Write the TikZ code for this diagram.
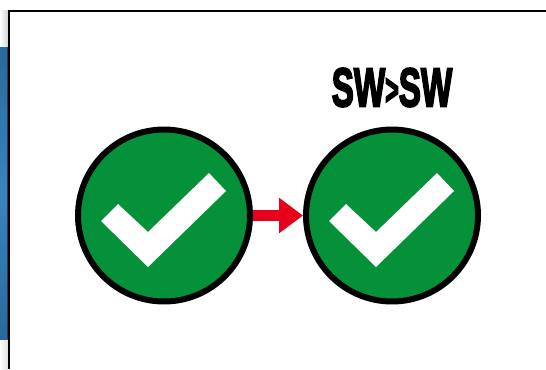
\documentclass[tikz,border=0pt]{standalone}
\usepackage{fontspec}
\usetikzlibrary{arrows.meta}
\newfontfamily\titlefont[FakeBold=4]{Liberation Sans Bold}
\definecolor{okgreen}{HTML}{05913A}
\definecolor{arrowred}{HTML}{E6001E}
\definecolor{stripblue}{HTML}{3A85B8}
\definecolor{stripdark}{HTML}{2A689E}
\tikzset{
  okcircle/.style={circle, draw=black, fill=okgreen, line width=0.12cm, minimum size=3.44cm, inner sep=0pt},
  titlelabel/.style={inner sep=0pt, font=\titlefont\fontsize{21}{21}\selectfont}
}
\begin{document}
\begin{tikzpicture}[x=0.02cm, y=-0.02cm, >=stealth]

    % 1. Page behind the panel (strip and soft shadow)
    \useasboundingbox (0,0) rectangle (546,369);
    \fill[white] (0,0) rectangle (546,369);
    \shade[left color=white, right color=gray!35] (0,10) rectangle (8,47);
    \shade[left color=white, right color=gray!25] (0,339) rectangle (8,369);
    \shade[top color=stripdark, bottom color=stripdark, middle color=stripblue] (0,47) rectangle (8,339);
    \fill[stripdark!60!black] (6.5,47) rectangle (8,339);

    % 2. The panel edge
    \coordinate (corner) at (9,11);
    \coordinate (panelbottom) at (9,369);
    \coordinate (panelright) at (546,11);
    \draw[black, line width=0.055cm] (panelbottom) -- (corner) -- (panelright);

    % 3. The two circles
    \node[okcircle] (okleft) at (164,215.5) {};
    \node[okcircle] (okright) at (392,215.5) {};

    % 4. Check marks
    \foreach \c in {okleft,okright} {
      \fill[white] (\c) ++(-63,5.5) -- ++(17,-17) -- ++(30,28) -- ++(61,-59) -- ++(17,18) -- ++(-78,76) -- cycle;
    }

    % 5. Arrow between them
    \draw[arrowred, line width=0.22cm, -{Triangle[length=0.48cm, width=0.68cm]}] (okleft) -- (okright);

    % 6. Title
    \node[titlelabel] (title) at (392,87.5) {\scalebox{0.9}[1.48]{SW\raisebox{0.03em}{\scalebox{0.7}[0.8]{>}}SW}};

  \end{tikzpicture}
\end{document}
